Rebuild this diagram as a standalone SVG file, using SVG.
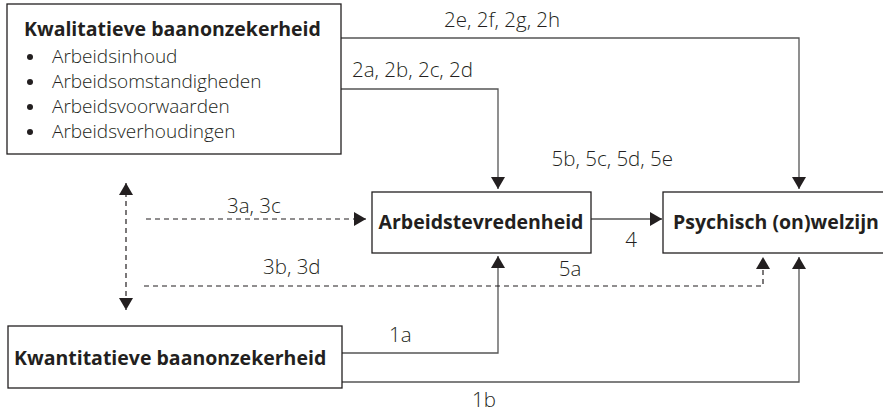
<svg xmlns="http://www.w3.org/2000/svg" width="883" height="412" viewBox="0 0 883 412">
<style>
.box{fill:#fff;stroke:#231f20;stroke-width:1.3}
.title{font-family:"Open Sans","Noto Sans",sans-serif;font-weight:700;font-size:19.5px;fill:#231f20}
.item{font-family:"Open Sans","Noto Sans",sans-serif;font-weight:300;font-size:19px;fill:#231f20}
.lbl{font-family:"Open Sans","Noto Sans",sans-serif;font-weight:300;font-size:20.5px;fill:#231f20}
.ln{fill:none;stroke:#555;stroke-width:1.3}
.dash{fill:none;stroke:#231f20;stroke-width:1.2;stroke-dasharray:5 4}
.ah{fill:#231f20}
</style>
<defs>
<marker id="arr" viewBox="0 0 12 14" refX="12" refY="7" markerWidth="12" markerHeight="14" markerUnits="userSpaceOnUse" orient="auto-start-reverse">
<path d="M0,0 L12,7 L0,14 Z" class="ah"/>
</marker>
</defs>
<g id="connectors">
<polyline class="ln" points="341,38 799,38 799,189" marker-end="url(#arr)"/>
<polyline class="ln" points="341,89 498,89 498,189" marker-end="url(#arr)"/>
<line class="ln" x1="591" y1="219" x2="662" y2="219" marker-end="url(#arr)"/>
<polyline class="ln" points="342,353 498,353 498,256" marker-end="url(#arr)"/>
<polyline class="ln" points="342,382 799,382 799,257" marker-end="url(#arr)"/>
<line class="dash" x1="146" y1="219" x2="366" y2="219" marker-end="url(#arr)"/>
<polyline class="dash" points="144,286 763,286 763,257" marker-end="url(#arr)"/>
<line class="dash" x1="126" y1="183" x2="126" y2="310" marker-start="url(#arr)" marker-end="url(#arr)"/>
<text class="lbl" x="444" y="27">2e, 2f, 2g, 2h</text>
<text class="lbl" x="352" y="77">2a, 2b, 2c, 2d</text>
<text class="lbl" x="673" y="166" text-anchor="end">5b, 5c, 5d, 5e</text>
<text class="lbl" x="227" y="213">3a, 3c</text>
<text class="lbl" x="631" y="247" text-anchor="middle">4</text>
<text class="lbl" x="263" y="274">3b, 3d</text>
<text class="lbl" x="570" y="276" text-anchor="middle">5a</text>
<text class="lbl" x="389" y="342">1a</text>
<text class="lbl" x="472" y="407">1b</text>
</g>
<g id="kwalitatief">
<rect class="box" x="7" y="4" width="334" height="150"/>
<text class="title" x="24" y="36">Kwalitatieve baanonzekerheid</text>
<circle cx="30" cy="57" r="3" class="ah"/>
<circle cx="30" cy="82" r="3" class="ah"/>
<circle cx="30" cy="107" r="3" class="ah"/>
<circle cx="30" cy="132" r="3" class="ah"/>
<text class="item" x="52" y="63">Arbeidsinhoud</text>
<text class="item" x="52" y="88">Arbeidsomstandigheden</text>
<text class="item" x="52" y="113">Arbeidsvoorwaarden</text>
<text class="item" x="52" y="138">Arbeidsverhoudingen</text>
</g>
<g id="arbeidstevredenheid">
<rect class="box" x="372" y="192" width="219" height="61"/>
<text class="title" x="481" y="229" text-anchor="middle">Arbeidstevredenheid</text>
</g>
<g id="welzijn">
<rect class="box" x="663" y="192" width="222" height="61"/>
<text class="title" x="673" y="229">Psychisch (on)welzijn</text>
</g>
<g id="kwantitatief">
<rect class="box" x="8" y="326" width="334" height="62"/>
<text class="title" x="14" y="365">Kwantitatieve baanonzekerheid</text>
</g>
</svg>
